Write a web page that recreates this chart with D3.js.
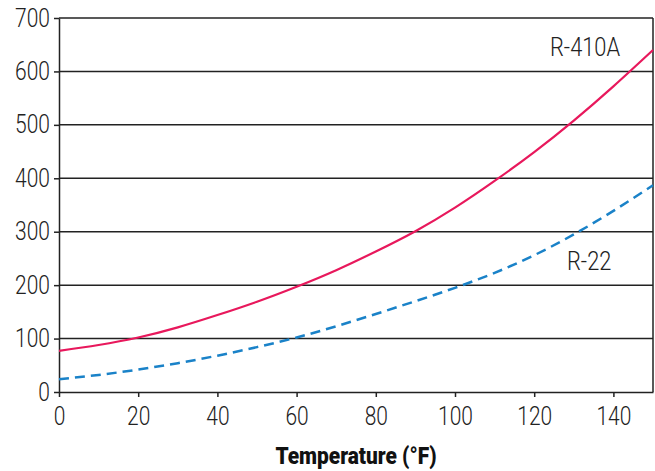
<!DOCTYPE html>
<html>
<head>
<meta charset="utf-8">
<script src="https://cdn.jsdelivr.net/npm/d3@7"></script>
<style>
  body { margin: 0; background: #fff; }
  svg text { font-family: Roboto, "Noto Sans", sans-serif; fill: #222; }
</style>
</head>
<body>
<svg id="svg" width="655" height="471"></svg>
<script>
(function() {

    const svg = d3.select('#svg')
    const width = 655, height = 471, marginLeft = 59, marginRight = 2,
    marginTop = 18, marginBottom = 79
    const squeeze = 0.84 // condensed look for the labels

    // temperature (°F) and pressure readings
    const temps = [0, 10, 20, 30, 40, 50, 60, 70, 80, 90, 100, 110, 120, 130, 140, 150]
    const r410a = [77, 88, 102, 121, 144, 169, 197, 228, 263, 301, 345, 395, 449, 508, 572, 640]
    const r22 = [24, 32, 42, 54, 68, 84, 102, 123, 146, 170, 195, 223, 256, 295, 339, 387]

    const xTicks = [0, 20, 40, 60, 80, 100, 120, 140]
    const yTicks = [0, 100, 200, 300, 400, 500, 600, 700]

    const x = d3.scaleLinear().domain([0, 150]).range([marginLeft, width - marginRight])
    const y = d3.scaleLinear().domain([0, 700]).range([height - marginBottom, marginTop])

    // gridlines
    svg.selectAll('.grid')
        .data(yTicks.slice(1))
        .enter()
        .append('line')
            .attr('x1', x(0))
            .attr('x2', x(150))
            .attr('y1', d => y(d))
            .attr('y2', d => y(d))
            .style('stroke', '#222')
            .style('stroke-width', 1.5)

    // right border
    svg.append('line')
        .attr('x1', x(150)).attr('x2', x(150))
        .attr('y1', y(0)).attr('y2', y(700))
        .style('stroke', '#222')
        .style('stroke-width', 1.5)

    // axes
    const xAxis = svg.append('g')
        .attr('transform', `translate(0,${y(0)})`)
        .call(d3.axisBottom(x).tickValues(xTicks).tickSize(5).tickSizeOuter(0).tickPadding(10))
    const yAxis = svg.append('g')
        .attr('transform', `translate(${x(0)},0)`)
        .call(d3.axisLeft(y).tickValues(yTicks).tickSize(5).tickSizeOuter(0).tickPadding(4))

    ;[xAxis, yAxis].forEach(g => {
        g.selectAll('path, line').style('stroke', '#222').style('stroke-width', 1.5)
        g.selectAll('text')
            .attr('transform', `scale(${squeeze},1)`)
            .style('font-size', '25px')
            .style('font-weight', 300)
            .style('font-family', 'Roboto, sans-serif')
            .style('fill', '#222')
    })
    yAxis.selectAll('text').attr('x', -9 / squeeze)

    // lines
    const line = (vals) => d3.line()
        .x((d, i) => x(temps[i]))
        .y(d => y(d))
        .curve(d3.curveNatural)(vals)

    svg.append('path')
        .attr('d', line(r22))
        .style('fill', 'none')
        .style('stroke', '#1a82c8')
        .style('stroke-width', 2.5)
        .style('stroke-dasharray', '10 6')

    svg.append('path')
        .attr('d', line(r410a))
        .style('fill', 'none')
        .style('stroke', '#e8185c')
        .style('stroke-width', 2.2)

    // series labels
    svg.append('text')
        .attr('transform', `translate(550,56) scale(${squeeze},1)`)
        .style('font-size', '26px')
        .style('font-weight', 300)
        .text('R-410A')

    svg.append('text')
        .attr('transform', `translate(567,270) scale(${squeeze},1)`)
        .style('font-size', '26px')
        .style('font-weight', 300)
        .text('R-22')

    // axis title
    svg.append('text')
        .attr('transform', `translate(${(x(0) + x(150)) / 2},464) scale(0.87,1)`)
        .attr('text-anchor', 'middle')
        .style('font-size', '24px')
        .style('font-weight', 900)
        .style('fill', '#111')
        .text('Temperature (°F)')

})();
</script>
</body>
</html>
